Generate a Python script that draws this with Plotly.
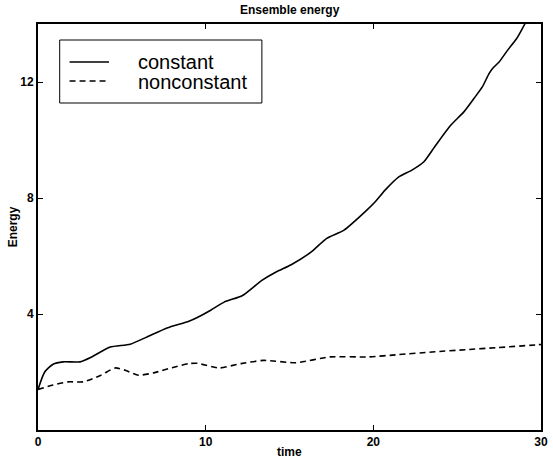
import plotly.graph_objects as go

# Ensemble energy over time for the two forcing cases
t_constant = [0, 0.4, 0.9, 1.5, 2.5, 3.2, 4.3, 5.5, 6.5, 7.7, 9.0, 9.5, 10.3, 11.1,
              12.2, 13.35, 14.2, 15.1, 16.3, 17.2, 18.25, 19.5, 20.1, 20.7, 21.5,
              22.3, 23.0, 23.65, 24.6, 25.4, 26.0, 26.5, 26.9, 27.1, 27.5, 28.0,
              28.55, 29.05, 30.0]
e_constant = [1.40, 2.00, 2.27, 2.35, 2.35, 2.52, 2.86, 2.96, 3.21, 3.52, 3.75, 3.88,
              4.13, 4.41, 4.64, 5.16, 5.45, 5.70, 6.14, 6.60, 6.89, 7.52, 7.86, 8.27,
              8.72, 8.96, 9.24, 9.76, 10.50, 10.97, 11.43, 11.83, 12.29, 12.46, 12.69,
              13.09, 13.50, 14.01, 14.90]

t_nonconstant = [0, 0.9, 1.8, 2.7, 3.75, 4.6, 5.2, 6.0, 6.9, 8.0, 9.0, 9.5, 10.8,
                 12.1, 13.45, 15.4, 17.4, 19.7, 21.5, 23.5, 25.5, 27.4, 29.8, 30.0]
e_nonconstant = [1.40, 1.55, 1.66, 1.66, 1.89, 2.14, 2.06, 1.89, 1.97, 2.15, 2.29, 2.30,
                 2.14, 2.29, 2.40, 2.32, 2.52, 2.52, 2.60, 2.69, 2.77, 2.84, 2.94, 2.95]

x_ticks = [0, 10, 20, 30]
y_ticks = [4, 8, 12]
series_names = ["constant", "nonconstant"]

W, H = 553, 462
L, R, T, B = 38, 5, 24, 32
FONT = "Liberation Sans, Arial, Helvetica, sans-serif"

fig = go.Figure()
fig.add_trace(go.Scatter(x=t_constant, y=e_constant, mode="lines",
                         line=dict(color="black", width=1.6, shape="spline", smoothing=0.6),
                         name=series_names[0], showlegend=False))
fig.add_trace(go.Scatter(x=t_nonconstant, y=e_nonconstant, mode="lines",
                         line=dict(color="black", width=1.6, dash="6px,4px",
                                   shape="spline", smoothing=0.6),
                         name=series_names[1], showlegend=False))

pw, ph = W - L - R, H - T - B


def px(xp):
    return (xp - L) / pw


def py(yp):
    return (H - B - yp) / ph


# boxed key in the upper left corner
shapes = [
    dict(type="rect", xref="paper", yref="paper", x0=px(60), x1=px(265),
         y0=py(103), y1=py(40), line=dict(color="black", width=1), fillcolor="white"),
    dict(type="line", xref="paper", yref="paper", x0=px(70), x1=px(110),
         y0=py(62), y1=py(62), line=dict(color="black", width=1.6)),
    dict(type="line", xref="paper", yref="paper", x0=px(70), x1=px(110),
         y0=py(81), y1=py(81), line=dict(color="black", width=1.6, dash="6px,4px")),
]

annotations = [
    dict(text=series_names[0], xref="paper", yref="paper", x=px(137), y=py(62),
         xanchor="left", yanchor="middle", showarrow=False,
         font=dict(family=FONT, size=20, color="black")),
    dict(text=series_names[1], xref="paper", yref="paper", x=px(137), y=py(82),
         xanchor="left", yanchor="middle", showarrow=False,
         font=dict(family=FONT, size=20, color="black")),
    dict(text="<b>Ensemble energy</b>", xref="paper", yref="paper", x=0.5, y=py(10),
         xanchor="center", yanchor="middle", showarrow=False,
         font=dict(family=FONT, size=12, color="black")),
    dict(text="<b>time</b>", xref="paper", yref="paper", x=0.5, y=py(452),
         xanchor="center", yanchor="middle", showarrow=False,
         font=dict(family=FONT, size=12, color="black")),
    dict(text="<b>Energy</b>", xref="paper", yref="paper", x=px(13), y=0.5,
         xanchor="center", yanchor="middle", showarrow=False, textangle=-90,
         font=dict(family=FONT, size=12, color="black")),
]

axis_common = dict(showgrid=False, zeroline=False, showline=True, linecolor="black",
                   linewidth=2, mirror="ticks", ticks="inside", ticklen=5,
                   tickwidth=1, tickcolor="black", ticklabeloverflow="allow",
                   tickfont=dict(family=FONT, size=12, color="black"))

fig.update_layout(
    width=W, height=H,
    margin=dict(l=L, r=R, t=T, b=B, pad=0),
    paper_bgcolor="white", plot_bgcolor="white",
    shapes=shapes, annotations=annotations,
    xaxis=dict(range=[0, 30], tickvals=x_ticks,
               ticktext=[f"<b>{v}</b>" for v in x_ticks], **axis_common),
    yaxis=dict(range=[0, 14], tickvals=y_ticks,
               ticktext=[f"<b>{v}</b>" for v in y_ticks], **axis_common),
)

fig.write_html("out.html")
